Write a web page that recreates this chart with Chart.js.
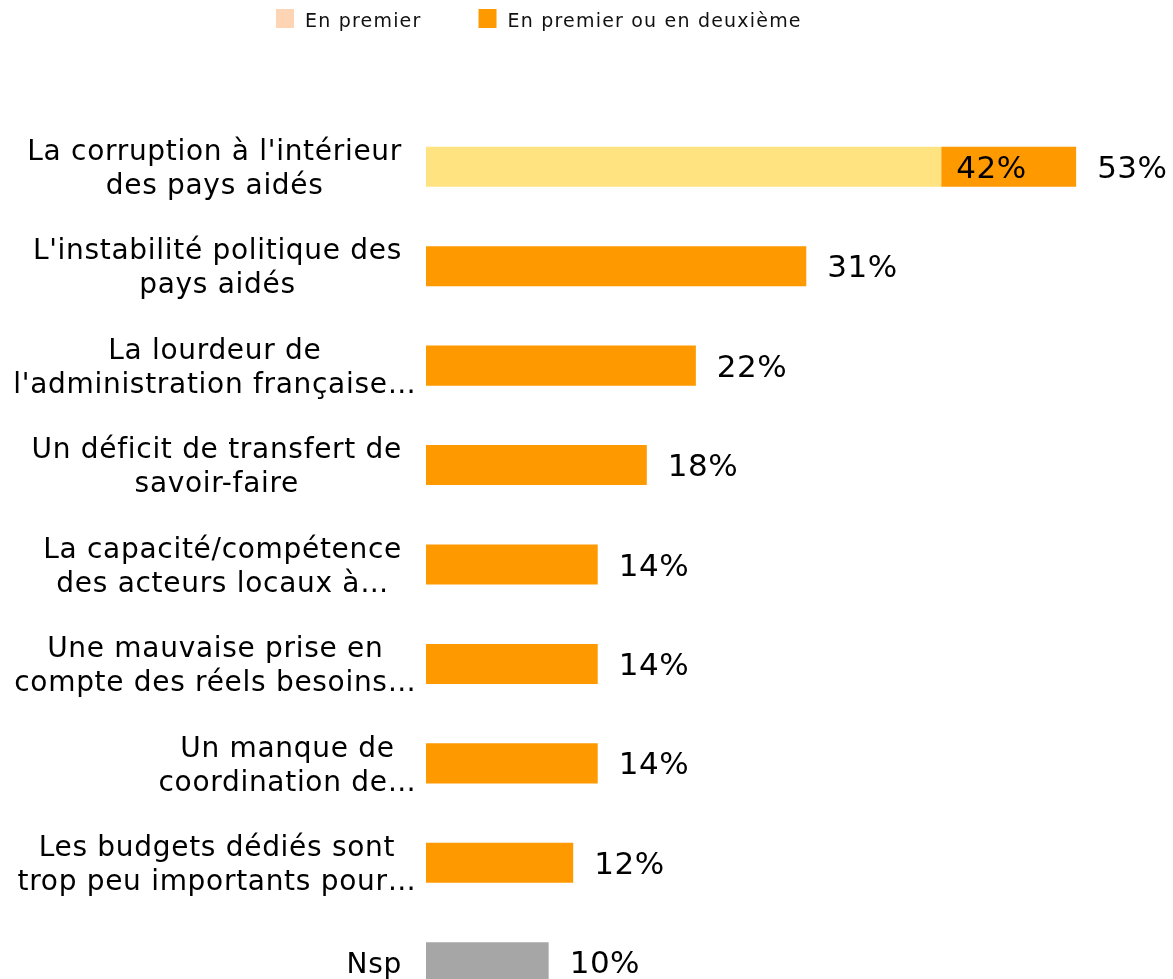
<!DOCTYPE html>
<html>
<head>
<meta charset="utf-8">
<script src="https://cdn.jsdelivr.net/npm/chart.js@4"></script>
<style>
  html, body { margin: 0; padding: 0; background: #fff; overflow: hidden; }
  #wrap { width: 1173px; height: 1012px; }
</style>
</head>
<body>
<div id="wrap"><canvas id="barChart"></canvas></div>
<script>
// Libellés des raisons (coupés comme dans l'original)
const categories = [
  ["La corruption à l'intérieur", "des pays aidés"],
  ["L'instabilité politique des", "pays aidés"],
  ["La lourdeur de", "l'administration française…"],
  ["Un déficit de transfert de", "savoir-faire"],
  ["La capacité/compétence", "des acteurs locaux à…"],
  ["Une mauvaise prise en", "compte des réels besoins…"],
  ["Un manque de", "coordination de…"],
  ["Les budgets dédiés sont", "trop peu importants pour…"],
  ["Nsp"]
];
const enPremier = [42, null, null, null, null, null, null, null, null];
const enPremierOuDeuxieme = [53, 31, 22, 18, 14, 14, 14, 12, 10];
const seriesNames = ['En premier', 'En premier ou en deuxième'];

const yellow = '#FFE381';
const peach = '#FDD5B4';
const orange = '#FF9900';
const grey = '#A6A6A6';
const font = "'DejaVu Sans', Verdana, sans-serif";

// Légende dessinée en haut du graphique
const topLegend = {
  id: 'topLegend',
  afterDraw(chart) {
    const ctx = chart.ctx;
    ctx.save();
    ctx.font = '19px ' + font;
    ctx.letterSpacing = '1.2px';
    ctx.textBaseline = 'middle';
    ctx.textAlign = 'left';
    const colors = [peach, orange];
    let x = 276;
    seriesNames.forEach((name, i) => {
      ctx.fillStyle = colors[i];
      ctx.fillRect(x, 9, 18, 19);
      ctx.fillStyle = '#111';
      ctx.fillText(name, x + 29, 22);
      x += 29 + ctx.measureText(name).width + 57;
    });
    ctx.restore();
  }
};

// Libellés de catégories : bloc aligné à droite, lignes centrées,
// les points de suspension débordent à droite
const categoryLabels = {
  id: 'categoryLabels',
  afterDraw(chart) {
    const ctx = chart.ctx;
    const yScale = chart.scales.y;
    const right = 402;
    const lineH = 34;
    ctx.save();
    ctx.font = '28px ' + font;
    ctx.letterSpacing = '0.7px';
    ctx.fillStyle = '#000';
    ctx.textAlign = 'center';
    ctx.textBaseline = 'middle';
    categories.forEach((lines, i) => {
      const y = yScale.getPixelForValue(i);
      const widest = Math.max(...lines.map(l => ctx.measureText(l.replace(/…$/, '')).width));
      const cx = right - widest / 2;
      const y0 = y - (lines.length - 1) * lineH / 2 + 3;
      lines.forEach((l, k) => ctx.fillText(l, cx, y0 + k * lineH));
    });
    ctx.restore();
  }
};

// Étiquettes de valeurs
const valueLabels = {
  id: 'valueLabels',
  afterDatasetsDraw(chart) {
    const ctx = chart.ctx;
    ctx.save();
    ctx.fillStyle = '#000';
    ctx.font = '31px ' + font;
    ctx.letterSpacing = '0.5px';
    ctx.textBaseline = 'middle';
    ctx.textAlign = 'left';
    chart.getDatasetMeta(1).data.forEach((bar, i) => {
      ctx.fillText(enPremierOuDeuxieme[i] + '%', bar.x + 21, bar.y + 3);
    });
    chart.getDatasetMeta(0).data.forEach((bar, i) => {
      if (enPremier[i] == null) return;
      ctx.fillText(enPremier[i] + '%', bar.x + 15, bar.y + 3);
    });
    ctx.restore();
  }
};

new Chart(document.getElementById('barChart'), {
  type: 'bar',
  data: {
    labels: categories.map(c => c.join(' ')),
    datasets: [
      {
        label: seriesNames[0],
        data: enPremier.map(v => v == null ? null : [0, v]),
        backgroundColor: yellow
      },
      {
        label: seriesNames[1],
        data: enPremierOuDeuxieme.map((v, i) => [enPremier[i] || 0, v]),
        backgroundColor: categories.map((c, i) => i === categories.length - 1 ? grey : orange)
      }
    ]
  },
  options: {
    indexAxis: 'y',
    responsive: true,
    maintainAspectRatio: false,
    animation: false,
    layout: { padding: { top: 117, right: 11, left: 0, bottom: 0 } },
    datasets: {
      bar: { grouped: false, categoryPercentage: 1, barPercentage: 0.403 }
    },
    scales: {
      x: { display: false, min: 0, max: 60 },
      y: {
        grid: { display: false },
        border: { display: false },
        ticks: { display: false },
        afterFit(scale) { scale.width = 426; }
      }
    },
    plugins: {
      tooltip: { enabled: false },
      legend: { display: false }
    }
  },
  plugins: [valueLabels, categoryLabels, topLegend]
});
</script>
</body>
</html>
